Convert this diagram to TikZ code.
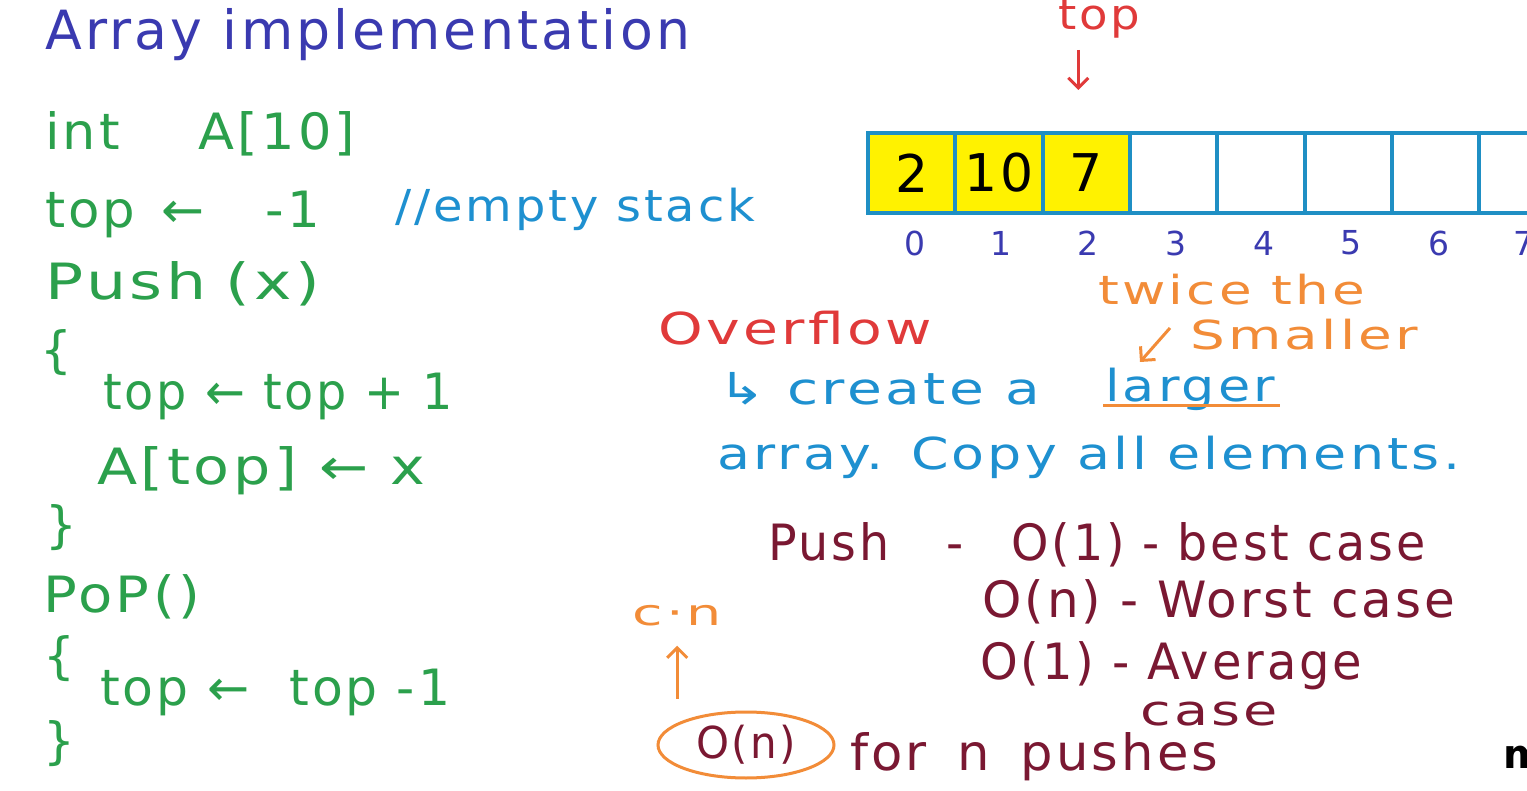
\documentclass[tikz,border=0pt]{standalone}
\usepackage{fontspec}
\usepackage{graphicx}
\setmainfont{DejaVu Sans}
\newfontfamily\hand[LetterSpace=6]{DejaVu Sans}
\usetikzlibrary{arrows.meta,shapes.geometric}
\definecolor{ctitle}{HTML}{3A3AB0}
\definecolor{cgreen}{HTML}{2BA04C}
\definecolor{cblue}{HTML}{1E90D0}
\definecolor{cred}{HTML}{E03A3A}
\definecolor{corange}{HTML}{F28C38}
\definecolor{cdark}{HTML}{7A1832}
\definecolor{cbox}{HTML}{1F8FC4}
\definecolor{cyellow}{HTML}{FFF200}
\newcommand\fitw[2]{\resizebox{#1}{\height}{#2}}
\tikzset{
  hw/.style={anchor=base west, inner sep=0pt, font={\hand\fontsize{#1}{#1}\selectfont}},
  cell/.style={draw=cbox, line width=4pt, minimum width=87.3pt, minimum height=80pt,
    inner sep=0pt, text=black, font={\hand\fontsize{52}{52}\selectfont}},
  idx/.style={inner sep=0pt, text=ctitle, font={\hand\fontsize{33}{33}\selectfont}},
  rarrow/.style={draw=cred, line width=3pt, -{Straight Barb[length=10pt,width=20pt]}},
  oarrow/.style={draw=corange, line width=3pt, -{Straight Barb[length=10pt,width=20pt]}},
}
\begin{document}
\begin{tikzpicture}[x=1pt,y=-1pt]
\useasboundingbox (0,0) rectangle (1527,791);
\clip (0,0) rectangle (1527,791);
\fill[white] (0,0) rectangle (1527,791);

% left column
\node[hw=54,text=ctitle] (title) at (45,50) {\fitw{645pt}{Array implementation}};
\node[hw=50,text=cgreen] (decl) at (45,150) {\fitw{310pt}{int\hspace{1.5em}A[10]}};
\node[hw=50,text=cgreen] (init) at (45,228) {\fitw{275pt}{top\hspace{0.5em}←\hspace{1.2em}-1}};
\node[hw=44,text=cblue] (cmt) at (395,222) {\fitw{360pt}{//empty stack}};
\node[hw=50,text=cgreen] (push) at (45,300) {\fitw{275pt}{Push\hspace{0.3em}(x)}};
\node[hw=50,text=cgreen] (ob1) at (40,368) {\{};
\node[hw=50,text=cgreen] (p1) at (103,410) {\fitw{350pt}{top ← top + 1}};
\node[hw=50,text=cgreen] (p2) at (97,485) {\fitw{328pt}{A[top] ← x}};
\node[hw=50,text=cgreen] (cb1) at (45,543) {\}};
\node[hw=50,text=cgreen] (pop) at (43,612) {\fitw{157pt}{PoP()}};
\node[hw=50,text=cgreen] (ob2) at (43,673) {\{};
\node[hw=50,text=cgreen] (q1) at (100,705) {\fitw{350pt}{top ← \hspace{0.4em}top -1}};
\node[hw=50,text=cgreen] (cb2) at (43,758) {\}};

% array
\node[cell,fill=cyellow] (c0) at (911.65,173) {2};
\node[cell,fill=cyellow] (c1) at (998.95,173) {10};
\node[cell,fill=cyellow] (c2) at (1086.25,173) {7};
\node[cell] (c3) at (1173.55,173) {};
\node[cell] (c4) at (1260.85,173) {};
\node[cell] (c5) at (1348.15,173) {};
\node[cell] (c6) at (1435.45,173) {};
\node[cell] (c7) at (1522.75,173) {};
\node[idx] (i0) at (915,243) {0};
\node[idx] (i1) at (1001,243) {1};
\node[idx] (i2) at (1088,243) {2};
\node[idx] (i3) at (1176,243) {3};
\node[idx] (i4) at (1264,243) {4};
\node[idx] (i5) at (1351,243) {5};
\node[idx] (i6) at (1439,243) {6};
\node[idx] (i7) at (1524,243) {7};

\node[hw=42,text=cred] (toplbl) at (1058,30) {\fitw{82pt}{top}};
\draw[rarrow, shorten <=11pt, shorten >=41pt] ([xshift=-8pt]c2.north |- toplbl.south) -- ([xshift=-8pt]c2.north);

% overflow note
\node[hw=40,text=corange] (twice) at (1098,305) {\fitw{267pt}{twice the}};
\node[hw=40,text=corange] (smaller) at (1190,350) {\fitw{228pt}{Smaller}};
\node[hw=44,text=cred] (ovf) at (658,345) {\fitw{274pt}{Overflow}};
\node[hw=44,text=cblue] (create) at (718,405) {\fitw{322pt}{↳ create a}};
\node[hw=44,text=cblue] (larger) at (1105,402) {\fitw{170pt}{larger}};
\draw[draw=corange, line width=3pt] ([xshift=-2pt,yshift=-4pt]larger.base west) -- ([xshift=5pt,yshift=-4pt]larger.base east);
\coordinate (sa) at (1170,328);
\coordinate (sb) at (1140,362);
\draw[oarrow] (sa) -- (sb);
\node[hw=44,text=cblue] (copy) at (717,470) {\fitw{743pt}{array. Copy all elements.}};

% complexity
\node[hw=50,text=cdark] (pb) at (768,560) {\fitw{657pt}{Push\hspace{1.2em}-\hspace{1em}O(1) - best case}};
\node[hw=50,text=cdark] (pw) at (982,617) {\fitw{473pt}{O(n) - Worst case}};
\node[hw=50,text=cdark] (pa) at (980,679) {\fitw{382pt}{O(1) - Average}};
\node[hw=42,text=cdark] (pc) at (1140,725) {\fitw{138pt}{case}};
\node[ellipse, draw=corange, line width=3pt, minimum width=176pt, minimum height=66pt,
  inner sep=0pt, text=cdark, font={\hand\fontsize{44}{44}\selectfont}] (on) at (746,745) {\fitw{100pt}{O(n)}};
\node[hw=50,text=cdark] (fn) at (850,770) {\fitw{368pt}{for\hspace{0.6em}n\hspace{0.6em}pushes}};
\node[hw=36,text=corange] (cn) at (632,625) {\fitw{90pt}{c·n}};
\draw[oarrow, shorten <=12pt, shorten >=20pt] (on.north -| cn.south) -- (cn.south);

\node[hw=40,text=black] (wm) at (1503,768) {\bfseries m};
\end{tikzpicture}
\end{document}
